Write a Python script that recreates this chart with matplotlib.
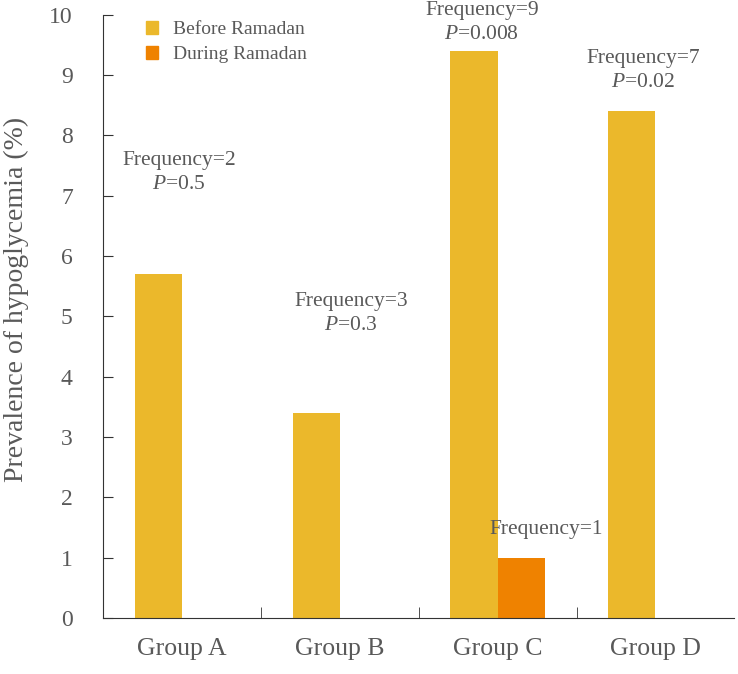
import numpy as np
import matplotlib.pyplot as plt
from matplotlib.patches import Patch

plt.rcParams['font.family'] = ['Liberation Serif', 'DejaVu Serif']
plt.rcParams['mathtext.fontset'] = 'custom'
plt.rcParams['mathtext.it'] = 'Liberation Serif:italic'
plt.rcParams['mathtext.rm'] = 'Liberation Serif'

groups = ["Group A", "Group B", "Group C", "Group D"]
before = [5.7, 3.4, 9.4, 8.4]
during = [0, 0, 1.0, 0]
series_names = ["Before Ramadan", "During Ramadan"]

# annotation texts
ann_text = ["Frequency=2\n$P$=0.5", "Frequency=3\n$P$=0.3",
            "Frequency=9\n$P$=0.008", "Frequency=7\n$P$=0.02",
            "Frequency=1"]
# positions of annotations (x in group units, y = centre in data units)
ann_pos = [(-0.02, 7.38), (1.07, 5.05), (1.90, 9.88), (2.92, 9.08), (2.31, 1.46)]

gold = "#EBB82B"
orange = "#EF8200"
txtc = "#595959"

fig = plt.figure(figsize=(7.38, 6.74), dpi=100)
ax = fig.add_axes([0.14, 0.083, 0.855, 0.895])

x = np.arange(len(groups))
w = 0.3
ax.bar(x - w/2, before, w, color=gold, label=series_names[0])
ax.bar(x + w/2, during, w, color=orange, label=series_names[1])

for t, (px, py) in zip(ann_text, ann_pos):
    ax.text(px, py, t, ha="center", va="center", fontsize=15.5, color=txtc,
            linespacing=1.35)

ax.set_xlim(-0.5, 3.5)
ax.set_ylim(0, 10)
ax.set_yticks(range(0, 11))
ax.set_xticks(x)
ax.set_xticklabels(groups)
ax.set_xticks([0.5, 1.5, 2.5], minor=True)
ax.tick_params(axis="x", which="major", length=0, pad=14, labelsize=18.5, labelcolor=txtc)
ax.tick_params(axis="x", which="minor", direction="in", length=8, color="#333333")
ax.tick_params(axis="y", direction="in", length=7, pad=22, labelsize=17,
               labelcolor=txtc, color="#333333")
ax.set_ylabel("Prevalence of hypoglycemia (%)", fontsize=20, color=txtc)
ax.yaxis.set_label_coords(-0.118, 0.529)

for s in ["top", "right"]:
    ax.spines[s].set_visible(False)
for s in ["left", "bottom"]:
    ax.spines[s].set_color("#333333")

handles = [Patch(color=gold), Patch(color=orange)]
ax.legend(handles, series_names, loc="upper left", bbox_to_anchor=(0.04, 1.018),
          frameon=False, fontsize=14, handlelength=0.6, handleheight=0.6,
          labelcolor=txtc, handletextpad=0.8, labelspacing=0.4)

fig.savefig("out.png", dpi=100)
